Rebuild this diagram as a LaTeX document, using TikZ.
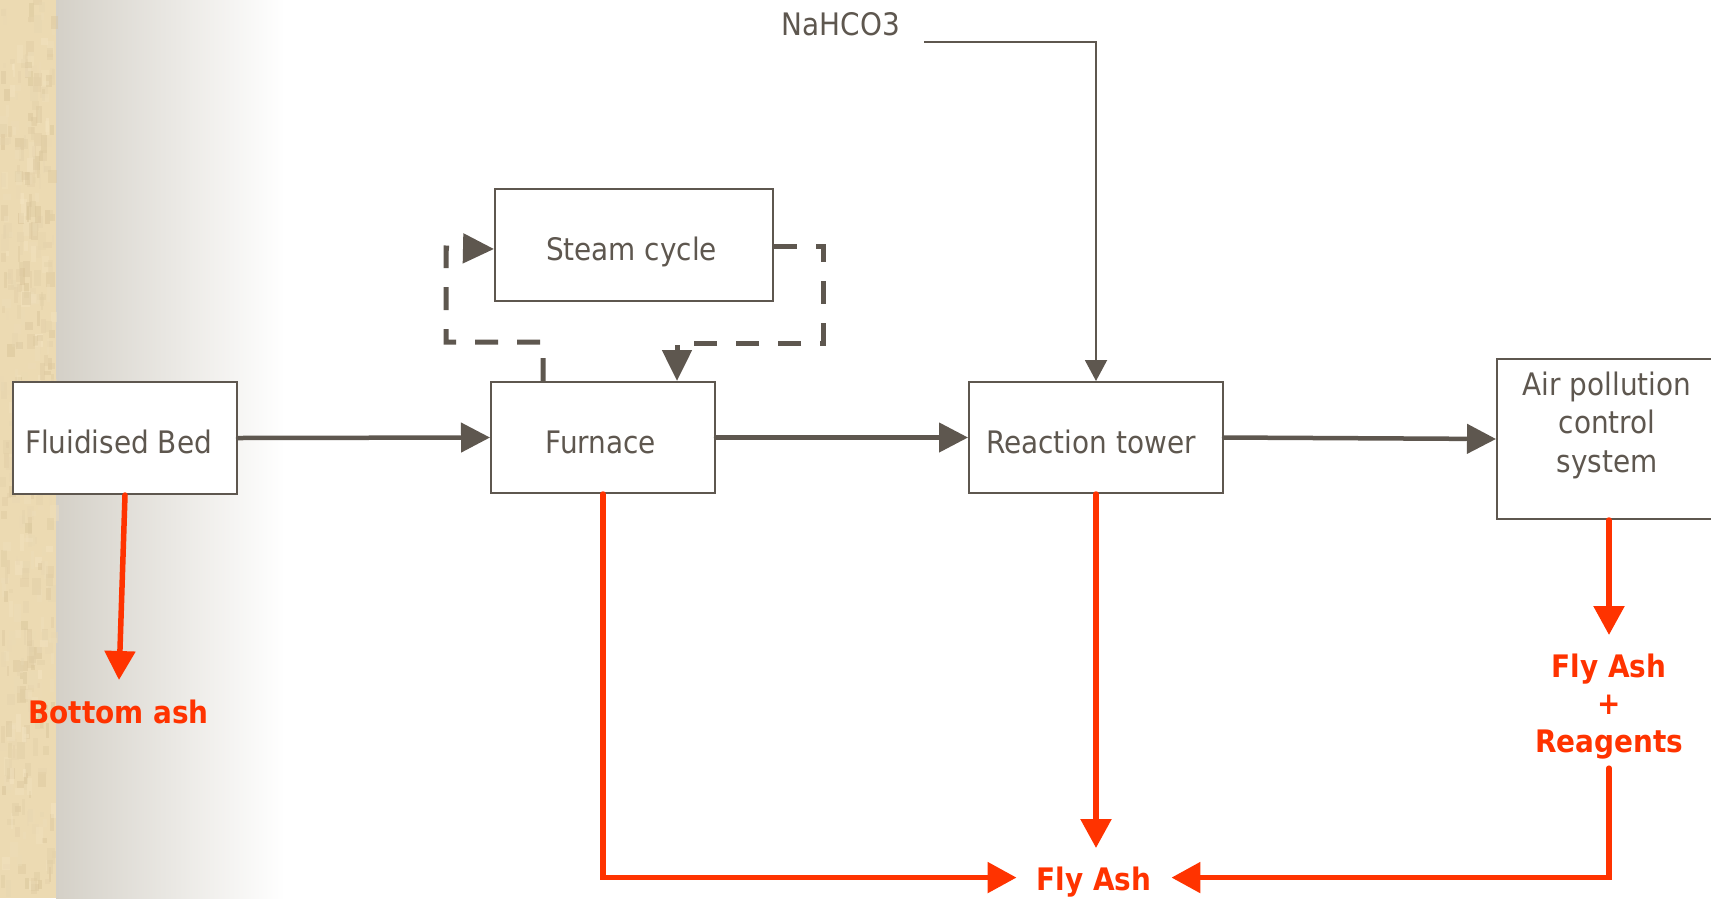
\documentclass[tikz,border=0pt]{standalone}
\usepackage{fontspec}
\setmainfont{DejaVu Sans Condensed}
\usetikzlibrary{arrows.meta}
\definecolor{ink}{RGB}{94,87,79}
\definecolor{ash}{RGB}{255,51,0}
\definecolor{sandL}{RGB}{245,230,196}
\definecolor{sandD}{RGB}{214,193,150}
\definecolor{sand}{RGB}{236,218,178}
\definecolor{fog}{RGB}{212,208,199}
\begin{document}
\begin{tikzpicture}[x=1pt,y=-1pt,
  box/.style={draw=ink, line width=2pt, fill=white, text=ink,
    font=\fontsize{31}{38.5}\selectfont, inner sep=0pt, text height=31pt, text depth=0pt},
  graytext/.style={text=ink, font=\fontsize{31}{38.5}\selectfont, inner sep=0pt, align=center},
  flow/.style={draw=ink, line width=4.5pt, line cap=round, -{Triangle[length=29pt,width=29pt]}},
  dashloop/.style={draw=ink, line width=5pt, dash pattern=on 23pt off 19pt, -{Triangle[length=31pt,width=29pt]}},
  feed/.style={draw=ink, line width=2pt, -{Triangle[length=21pt,width=22pt]}},
  ashflow/.style={draw=ash, line width=5.5pt, line cap=round, -{Triangle[length=29pt,width=30pt]}},
  lbl/.style={text=ash, font=\fontsize{31}{37.5}\selectfont\bfseries, align=center, inner sep=0pt},
]
\useasboundingbox (0,0) rectangle (1711,898);
% background
\fill[white] (0,0) rectangle (1711,898);
\shade[left color=fog, right color=white] (56,0) rectangle (285,898);
\fill[sand] (0,0) rectangle (56,898);
\pgfmathsetseed{7}
\foreach \i in {1,...,450}{
  \pgfmathsetmacro\xx{rnd*52}
  \pgfmathsetmacro\yy{rnd*890}
  \pgfmathsetmacro\ww{2+rnd*7}
  \pgfmathsetmacro\hh{4+rnd*14}
  \pgfmathtruncatemacro\cc{rnd*100}
  \fill[sandD!\cc!sandL, opacity=0.45] (\xx,\yy) rectangle ++(\ww,\hh);
}

% boxes
\node[box, minimum width=224pt, minimum height=112pt] (fb) at (125,438) {Fluidised Bed\kern13pt};
\node[box, minimum width=224pt, minimum height=111pt] (furnace) at (603,437.5) {Furnace\kern4pt};
\node[box, minimum width=278pt, minimum height=112pt] (steam) at (634,245) {Steam cycle\kern5pt};
\node[box, minimum width=254pt, minimum height=111pt] (rt) at (1096,437.5) {Reaction tower\kern10pt};
\node[box, minimum width=224pt, minimum height=160pt] (apc) at (1609,439) {};
\node[graytext, anchor=north] (apctxt) at (1607,371.5) {Air pollution\\control\\system};
\node[graytext, anchor=base] (nahco) at (841,35) {NaHCO3};

% red labels
\node[lbl, anchor=base] (bash) at (118.5,723) {Bottom ash};
\node[lbl, anchor=base, inner xsep=20pt] (flyash) at (1094,890) {Fly Ash};
\node[lbl, anchor=north] (fa2) at (1609,653.5) {Fly Ash\\+\\Reagents};
\coordinate (batip) at (119,680);
\coordinate (rttip) at (1096,848);
\coordinate (apctip) at (1609,635);

% gray flows
\draw[flow] (fb.east) -- (furnace.west);
\draw[flow] (furnace.east) -- (rt.west);
\draw[flow] (rt.east) -- (apc.west);
\draw[feed] ([xshift=24pt,yshift=-7pt]nahco.base east) -| (rt.north);

% steam loop
\draw[dashloop] ([xshift=-60pt]furnace.north) -- ++(0,-39) -- ++(-97,0) -- ++(0,-94) -- ([yshift=-4pt]steam.west);
\draw[dashloop] ([yshift=-1pt]steam.east) -- ++(49,0) -- ++(0,97) -| ([xshift=74pt]furnace.north);

% ash flows
\draw[ashflow] (fb.south) -- (batip);
\draw[ashflow] (rt.south) -- (rttip);
\draw[ashflow] (apc.south) -- (apctip);
\draw[ashflow] (furnace.south) |- ([yshift=4pt]flyash.west);
\draw[ashflow] ([yshift=-9pt]fa2.south) |- ([yshift=4pt]flyash.east);
\end{tikzpicture}
\end{document}
